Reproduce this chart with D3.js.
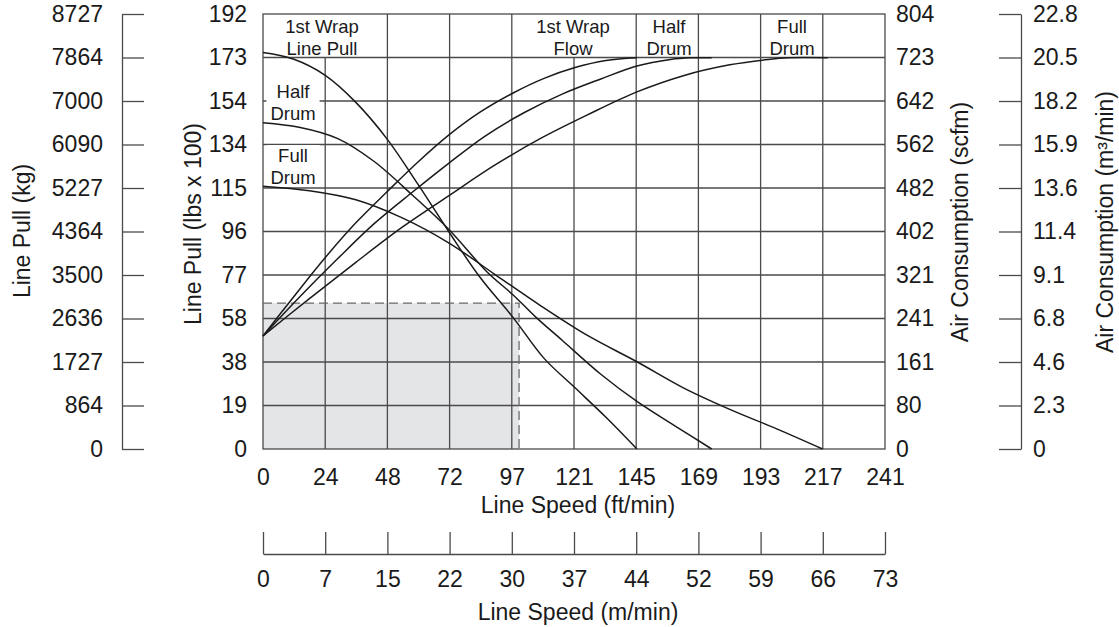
<!DOCTYPE html>
<html>
<head>
<meta charset="utf-8">
<script src="https://cdn.jsdelivr.net/npm/d3@7"></script>
<style>
  body { margin: 0; background: #fff; }
  svg { display: block; font-family: "Liberation Sans", Arial, Helvetica, sans-serif; }
</style>
</head>
<body>
<svg id="chart" width="1119" height="627"></svg>
<script>
// tick labels (10 equal divisions on every axis)
const speedFtLabels = ["0", "24", "48", "72", "97", "121", "145", "169", "193", "217", "241"];
const speedMLabels = ["0", "7", "15", "22", "30", "37", "44", "52", "59", "66", "73"];
const pullLbsLabels = ["0", "19", "38", "58", "77", "96", "115", "134", "154", "173", "192"];
const pullKgLabels = ["0", "864", "1727", "2636", "3500", "4364", "5227", "6090", "7000", "7864", "8727"];
const airScfmLabels = ["0", "80", "161", "241", "321", "402", "482", "562", "642", "723", "804"];
const airM3Labels = ["0", "2.3", "4.6", "6.8", "9.1", "11.4", "13.6", "15.9", "18.2", "20.5", "22.8"];

const SPEED_MAX = 241.2; // ft/min
const PULL_MAX = 192;    // lbs x 100
const AIR_MAX = 804;     // scfm

// line pull curves: [ft/min, lbs x 100]
const pullFirstWrap = [[0, 175], [12, 172], [24, 165], [36, 153], [48, 137], [60, 117], [72, 96], [84, 76], [97, 58], [109, 40], [121, 27], [133, 14], [145, 0]];
const pullHalfDrum = [[0, 144], [14, 142], [29, 137], [43, 127], [58, 112], [72, 97], [87, 78], [97, 68], [106, 58], [116, 48], [131, 33], [145, 21], [160, 10], [174, 0]];
const pullFullDrum = [[0, 116], [18, 114], [36, 110], [54, 102], [72, 91], [90, 77], [108, 63], [126, 50], [145, 38.5], [163, 27], [181, 17.5], [199, 9], [217, 0]];

// air consumption curves: [ft/min, scfm]
const flowFirstWrap = [[0, 209], [12, 282], [24, 353], [36, 418], [48, 475], [60, 530], [72, 580], [84, 622], [97, 658], [109, 685], [121, 705], [133, 718], [145, 723]];
const flowHalfDrum = [[0, 209], [14, 280], [29, 352], [43, 416], [58, 475], [72, 528], [86, 578], [101, 621], [116, 656], [131, 684], [145, 708], [158, 720], [166, 723], [174, 723]];
const flowFullDrum = [[0, 209], [18, 278], [36, 345], [54, 410], [72, 468], [90, 525], [108, 575], [126, 618], [145, 660], [163, 690], [181, 710], [196, 720], [204, 723], [219, 723]];

// rated duty box
const ratedSpeed = 99.3;
const ratedPull = 64.4;

const FONT = "Liberation Sans, Arial, Helvetica, sans-serif";
const INK = "#1a1a1a";
const GRID = "#4a4a4a";

const plot = { left: 263, right: 885, top: 14, bottom: 449 };
const svg = d3.select("#chart");

const x = d3.scaleLinear().domain([0, SPEED_MAX]).range([plot.left, plot.right]);
const yPull = d3.scaleLinear().domain([0, PULL_MAX]).range([plot.bottom, plot.top]);
const yFlow = d3.scaleLinear().domain([0, AIR_MAX]).range([plot.bottom, plot.top]);
// division scales shared by all the axes
const gx = d3.scaleLinear().domain([0, 10]).range([plot.left, plot.right]);
const gy = d3.scaleLinear().domain([0, 10]).range([plot.bottom, plot.top]);
const divs = d3.range(11);

// shaded rated area
svg.append("rect")
  .attr("x", x(0))
  .attr("y", yPull(ratedPull))
  .attr("width", x(ratedSpeed) - x(0))
  .attr("height", yPull(0) - yPull(ratedPull))
  .attr("fill", "#e4e5e7");

// grid (two verticals stop below the top row where the labels sit)
const clearTop = [1, 5];
const grid = svg.append("g").attr("stroke", GRID).attr("stroke-width", 1.3);
grid.selectAll("line.v")
  .data(d3.range(1, 10))
  .join("line")
  .attr("class", "v")
  .attr("x1", d => gx(d)).attr("x2", d => gx(d))
  .attr("y1", plot.bottom)
  .attr("y2", d => clearTop.includes(d) ? gy(9) : plot.top);
grid.selectAll("line.h")
  .data(d3.range(1, 10))
  .join("line")
  .attr("class", "h")
  .attr("x1", plot.left).attr("x2", plot.right)
  .attr("y1", d => gy(d)).attr("y2", d => gy(d));
grid.append("rect")
  .attr("x", plot.left).attr("y", plot.top)
  .attr("width", plot.right - plot.left).attr("height", plot.bottom - plot.top)
  .attr("fill", "none");

// dashed outline of the rated box
svg.append("path")
  .attr("d", `M${x(0)},${yPull(ratedPull)}H${x(ratedSpeed)}V${yPull(0)}`)
  .attr("fill", "none")
  .attr("stroke", "#6a6a6a")
  .attr("stroke-width", 1.3)
  .attr("stroke-dasharray", "9,5");

// curve labels, with white boxes behind the ones inside the grid
function label(lines, cx, baseline, mask) {
  const t = svg.append("text")
    .attr("font-size", 18.5)
    .attr("font-family", FONT)
    .attr("fill", INK)
    .attr("text-anchor", "middle");
  lines.forEach((s, i) => {
    t.append("tspan").attr("x", cx).attr("y", baseline + i * 21.5).text(s);
  });
  if (mask) {
    const b = t.node().getBBox();
    svg.insert("rect", () => t.node())
      .attr("x", b.x - 4).attr("y", b.y)
      .attr("width", b.width + 8).attr("height", b.height - 3)
      .attr("fill", "#fff");
  }
  return t;
}

label(["1st Wrap", "Line Pull"], 322, 33, false);
label(["1st Wrap", "Flow"], 573, 33, false);
label(["Half", "Drum"], 669, 33, false);
label(["Full", "Drum"], 792, 33, false);
label(["Half", "Drum"], 293, 98, true);
label(["Full", "Drum"], 293, 162, true);

// curves
const pullLine = d3.line().x(d => x(d[0])).y(d => yPull(d[1])).curve(d3.curveCatmullRom.alpha(0.5));
const flowLine = d3.line().x(d => x(d[0])).y(d => yFlow(d[1])).curve(d3.curveCatmullRom.alpha(0.5));
const curves = svg.append("g").attr("fill", "none").attr("stroke", INK).attr("stroke-width", 1.5);
[pullFirstWrap, pullHalfDrum, pullFullDrum].forEach(s => curves.append("path").attr("d", pullLine(s)));
[flowFirstWrap, flowHalfDrum, flowFullDrum].forEach(s => curves.append("path").attr("d", flowLine(s)));

// axes
function styleAxis(g) {
  g.attr("font-size", 23).attr("font-family", FONT).attr("color", GRID);
  g.selectAll("line").attr("stroke-width", 1.3);
  g.selectAll(".domain").attr("stroke-width", 1.3);
  g.selectAll("text").attr("fill", INK);
}

svg.append("g")
  .attr("transform", `translate(${plot.left},0)`)
  .call(d3.axisLeft(gy).tickValues(divs).tickFormat(i => pullLbsLabels[i]).tickSize(0).tickPadding(16))
  .call(g => g.select(".domain").remove())
  .call(styleAxis);

svg.append("g")
  .attr("transform", "translate(122,0)")
  .call(d3.axisRight(gy).tickValues(divs).tickFormat(i => pullKgLabels[i]).tickSize(22).tickSizeOuter(0))
  .call(g => g.selectAll("text").attr("x", -19).attr("text-anchor", "end"))
  .call(styleAxis);

svg.append("g")
  .attr("transform", `translate(${plot.right},0)`)
  .call(d3.axisRight(gy).tickValues(divs).tickFormat(i => airScfmLabels[i]).tickSize(0).tickPadding(11))
  .call(g => g.select(".domain").remove())
  .call(styleAxis);

svg.append("g")
  .attr("transform", "translate(1021,0)")
  .call(d3.axisLeft(gy).tickValues(divs).tickFormat(i => airM3Labels[i]).tickSize(22).tickSizeOuter(0))
  .call(g => g.selectAll("text").attr("x", 12).attr("text-anchor", "start"))
  .call(styleAxis);

svg.append("g")
  .attr("transform", `translate(0,${plot.bottom})`)
  .call(d3.axisBottom(gx).tickValues(divs).tickFormat(i => speedFtLabels[i]).tickSize(0).tickPadding(20))
  .call(g => g.select(".domain").remove())
  .call(styleAxis);

svg.append("g")
  .attr("transform", "translate(0,554)")
  .call(d3.axisTop(gx).tickValues(divs).tickFormat(i => speedMLabels[i]).tickSize(22).tickSizeOuter(0))
  .call(g => g.selectAll("text").attr("y", 17).attr("dy", "0.71em"))
  .call(styleAxis);

// axis titles
function title(text, cx, cy, vertical) {
  const t = svg.append("text")
    .attr("font-size", 23)
    .attr("font-family", FONT)
    .attr("fill", INK)
    .attr("text-anchor", "middle")
    .text(text);
  if (vertical) {
    t.attr("transform", `translate(${cx},${cy}) rotate(-90)`).attr("dy", "0.35em");
  } else {
    t.attr("x", cx).attr("y", cy);
  }
}

title("Line Pull (kg)", 22, 231, true);
title("Line Pull (lbs x 100)", 193, 224, true);
title("Air Consumption (scfm)", 960, 222, true);
title("Air Consumption (m³/min)", 1105, 222, true);
title("Line Speed (ft/min)", 578, 513, false);
title("Line Speed (m/min)", 578, 620, false);
</script>
</body>
</html>
